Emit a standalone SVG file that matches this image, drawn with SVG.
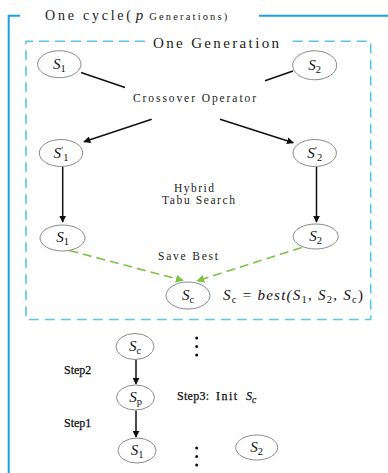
<svg xmlns="http://www.w3.org/2000/svg" width="388" height="473" viewBox="0 0 388 473">
  <defs>
    <marker id="arrowBlack" viewBox="0 0 10 10" refX="9" refY="5" markerWidth="7" markerHeight="7" markerUnits="userSpaceOnUse" orient="auto">
      <path d="M0,0 L10,5 L0,10 z" fill="#111"/>
    </marker>
    <marker id="arrowGreen" viewBox="0 0 10 10" refX="9" refY="5" markerWidth="8" markerHeight="8" markerUnits="userSpaceOnUse" orient="auto">
      <path d="M0,0 L10,5 L0,10 z" fill="#7cc243"/>
    </marker>
  </defs>
  <style>
    text { font-family: "Liberation Serif", "DejaVu Serif", serif; }
    .node { fill: #fff; stroke: #8a8a8a; stroke-width: 1; }
    .lbl { font-style: italic; font-size: 15px; fill: #111; }
    .mid { text-anchor: middle; }
    .sub { font-size: 10.5px; font-style: normal; }
    .mono { fill: #222; }
    .step { font-size: 12px; fill: #111; stroke: #111; stroke-width: 0.25; }
    .edge { stroke: #111; stroke-width: 1.5; fill: none; }
    .save { stroke: #7cc243; stroke-width: 1.6; stroke-dasharray: 9 5; fill: none; }
    .dot { fill: #111; }
  </style>
  <rect width="388" height="473" fill="#fff"/>

  <!-- outer frame: one cycle -->
  <g id="cycle-frame">
    <path d="M20,15.7 H8.7 V473" fill="none" stroke="#1ba1e2" stroke-width="2"/>
    <path d="M259,15.7 H388" fill="none" stroke="#1ba1e2" stroke-width="2"/>
    <text class="mono" x="45" y="20" font-size="14"><tspan textLength="86" lengthAdjust="spacing">One cycle(</tspan><tspan font-style="italic" font-size="15" dx="2">p</tspan><tspan font-size="10.5" dx="6" textLength="78" lengthAdjust="spacing">Generations)</tspan></text>
  </g>

  <!-- inner frame: one generation -->
  <g id="generation-frame">
    <path d="M145,41.3 H26 V319.5 H370.7 V41.3 H287" fill="none" stroke="#5cc6e6" stroke-width="1.6" stroke-dasharray="10 6"/>
    <text class="mono" x="153" y="47.5" font-size="15" textLength="126" lengthAdjust="spacing">One Generation</text>
  </g>

  <!-- connectors -->
  <g id="connectors">
    <line class="edge" x1="81" y1="72.5" x2="125" y2="87.5"/>
    <line class="edge" x1="293" y1="71" x2="265" y2="80.7"/>
    <line class="edge" x1="151.7" y1="119.3" x2="84" y2="141.7" marker-end="url(#arrowBlack)"/>
    <line class="edge" x1="220" y1="119.3" x2="293.3" y2="142.7" marker-end="url(#arrowBlack)"/>
    <line class="edge" x1="62.7" y1="167" x2="62.7" y2="222" marker-end="url(#arrowBlack)"/>
    <line class="edge" x1="316.5" y1="167" x2="316.5" y2="222" marker-end="url(#arrowBlack)"/>
    <line class="save" x1="69.3" y1="250.5" x2="183" y2="280.5" marker-end="url(#arrowGreen)"/>
    <line class="save" x1="301.7" y1="247.5" x2="197" y2="281" marker-end="url(#arrowGreen)"/>
    <line class="edge" x1="136" y1="360" x2="136" y2="384" marker-end="url(#arrowBlack)"/>
    <line class="edge" x1="136" y1="410.5" x2="136" y2="437" marker-end="url(#arrowBlack)"/>
  </g>

  <!-- operator labels -->
  <g id="labels">
    <text class="mono mid" x="194.5" y="101.5" font-size="11.5" textLength="123" lengthAdjust="spacing">Crossover Operator</text>
    <text class="mono mid" x="194" y="192" font-size="11.5" textLength="40" lengthAdjust="spacing">Hybrid</text>
    <text class="mono mid" x="198.5" y="204" font-size="11.5" textLength="73" lengthAdjust="spacing">Tabu Search</text>
    <text class="mono mid" x="188" y="260" font-size="11.5" textLength="60" lengthAdjust="spacing">Save Best</text>
    <text class="lbl" x="223" y="300" font-size="16.5" textLength="140" lengthAdjust="spacing">S<tspan class="sub" dy="3">c</tspan><tspan dy="-3" font-style="normal"> = </tspan>best(S<tspan class="sub" dy="3">1</tspan><tspan dy="-3" font-style="normal">, </tspan>S<tspan class="sub" dy="3">2</tspan><tspan dy="-3" font-style="normal">, </tspan>S<tspan class="sub" dy="3">c</tspan><tspan dy="-3" font-style="normal">)</tspan></text>
    <text class="step" x="64" y="374">Step2</text>
    <text class="step" x="64" y="427">Step1</text>
    <text class="step" x="177" y="400" textLength="32" lengthAdjust="spacing">Step3:</text>
    <text class="step" x="216" y="400" textLength="21" lengthAdjust="spacing">Init</text>
    <text class="step" x="246" y="400" font-style="italic" font-size="14" stroke-width="0">S<tspan font-size="9.5" dy="3">c</tspan></text>
  </g>

  <!-- nodes -->
  <g id="n-s1-top">
    <ellipse class="node" cx="59.3" cy="64.2" rx="21.7" ry="13.5"/>
    <text class="lbl mid" x="59.3" y="68.5">S<tspan class="sub" dy="3">1</tspan></text>
  </g>
  <g id="n-s2-top">
    <ellipse class="node" cx="314.7" cy="65.3" rx="22" ry="14.5"/>
    <text class="lbl mid" x="314.7" y="69.5">S<tspan class="sub" dy="3">2</tspan></text>
  </g>
  <g id="n-s1-prime">
    <ellipse class="node" cx="61" cy="153" rx="21.7" ry="13.5"/>
    <text class="lbl mid" x="61" y="157.5">S<tspan class="sub" dy="-4">′</tspan><tspan class="sub" dy="7">1</tspan></text>
  </g>
  <g id="n-s2-prime">
    <ellipse class="node" cx="314.7" cy="153" rx="21.7" ry="13.5"/>
    <text class="lbl mid" x="314.7" y="157.5">S<tspan class="sub" dy="-4">′</tspan><tspan class="sub" dy="7">2</tspan></text>
  </g>
  <g id="n-s1-mid">
    <ellipse class="node" cx="62.5" cy="238" rx="22.5" ry="13"/>
    <text class="lbl mid" x="62.5" y="242">S<tspan class="sub" dy="3">1</tspan></text>
  </g>
  <g id="n-s2-mid">
    <ellipse class="node" cx="315.7" cy="236.5" rx="22.5" ry="12.5"/>
    <text class="lbl mid" x="315.7" y="240.5">S<tspan class="sub" dy="3">2</tspan></text>
  </g>
  <g id="n-sc">
    <ellipse class="node" cx="188" cy="295.5" rx="22" ry="13.5"/>
    <text class="lbl mid" x="188" y="299.5">S<tspan class="sub" dy="3">c</tspan></text>
  </g>
  <g id="n-sc-cycle">
    <ellipse class="node" cx="135" cy="346.5" rx="19" ry="13"/>
    <text class="lbl mid" x="135" y="350.5">S<tspan class="sub" dy="3">c</tspan></text>
  </g>
  <g id="n-sp">
    <ellipse class="node" cx="135.5" cy="397.5" rx="19" ry="12.5"/>
    <text class="lbl mid" x="135.5" y="401.5">S<tspan class="sub" dy="3">p</tspan></text>
  </g>
  <g id="n-s1-cycle">
    <ellipse class="node" cx="137" cy="450.5" rx="19" ry="12.5"/>
    <text class="lbl mid" x="137" y="454.5">S<tspan class="sub" dy="3">1</tspan></text>
  </g>
  <g id="n-s2-cycle">
    <ellipse class="node" cx="256.7" cy="447.5" rx="21" ry="12.5"/>
    <text class="lbl mid" x="256.7" y="451.5">S<tspan class="sub" dy="3">2</tspan></text>
  </g>

  <!-- continuation dots -->
  <g id="ellipsis-top">
    <circle class="dot" cx="196.7" cy="338" r="1.5"/>
    <circle class="dot" cx="196.7" cy="346.5" r="1.5"/>
    <circle class="dot" cx="196.7" cy="355" r="1.5"/>
  </g>
  <g id="ellipsis-bottom">
    <circle class="dot" cx="196.7" cy="448" r="1.5"/>
    <circle class="dot" cx="196.7" cy="456.5" r="1.5"/>
    <circle class="dot" cx="196.7" cy="465" r="1.5"/>
  </g>
</svg>
